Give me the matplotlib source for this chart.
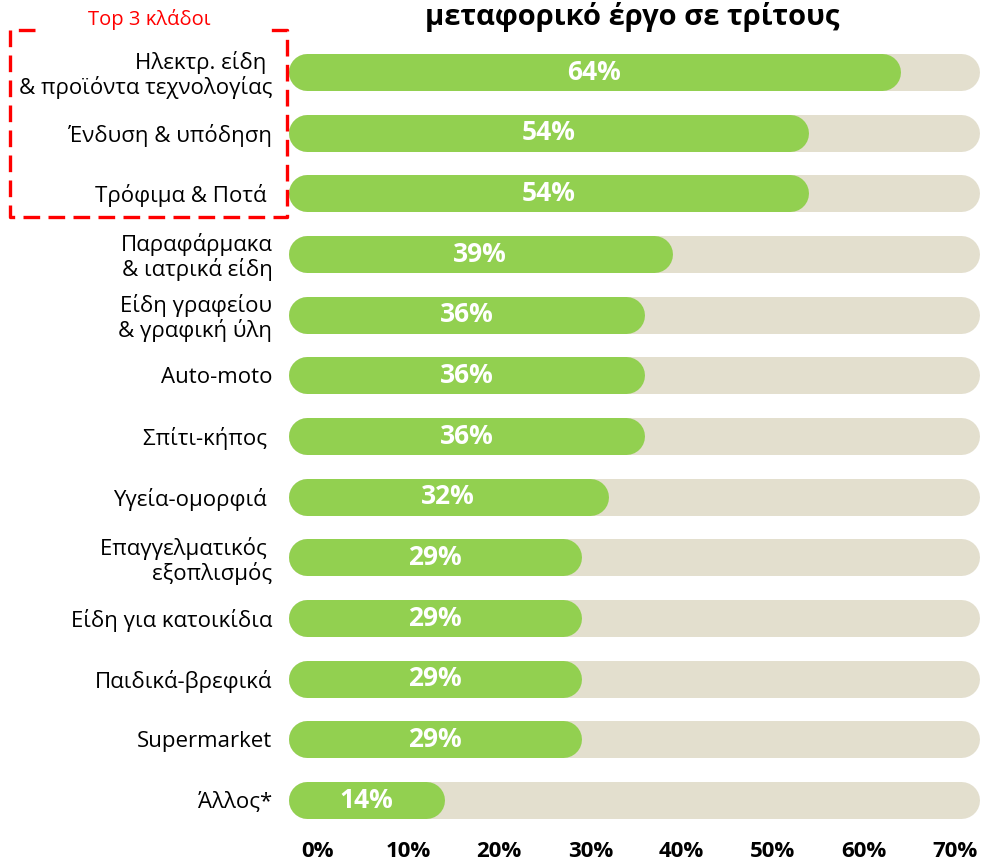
#!/usr/bin/env python3
import matplotlib
matplotlib.use('Agg')
import matplotlib.pyplot as plt
from matplotlib.lines import Line2D

categories = [
    'Ηλεκτρ. είδη \n& προϊόντα τεχνολογίας',
    'Ένδυση & υπόδηση',
    'Τρόφιμα & Ποτά ',
    'Παραφάρμακα\n& ιατρικά είδη',
    'Είδη γραφείου\n& γραφική ύλη',
    'Auto-moto',
    'Σπίτι-κήπος ',
    'Υγεία-ομορφιά ',
    'Επαγγελματικός \nεξοπλισμός',
    'Είδη για κατοικίδια',
    'Παιδικά-βρεφικά',
    'Supermarket',
    'Άλλος*',
]
values = [64, 54, 54, 39, 36, 36, 36, 32, 29, 29, 29, 29, 14]
ticks = [0, 10, 20, 30, 40, 50, 60, 70]
tick_labels = ['0%', '10%', '20%', '30%', '40%', '50%', '60%', '70%']

title = 'μεταφορικό έργο σε τρίτους'
top_label = 'Top 3 κλάδοι'

GREEN = '#92D050'
TRACK = '#E3DFCE'
W, H = 983, 865


def main():
    plt.rcParams['font.family'] = ['Open Sans', 'DejaVu Sans']
    fig = plt.figure(figsize=(W / 100, H / 100), dpi=100)

    # axes placed in pixel terms
    left, right, top, bottom = 285, 983, 30, 830
    ax = fig.add_axes([left / W, 1 - bottom / H, (right - left) / W, (bottom - top) / H])

    px_per_unit = 9.11
    zero_px = 317
    ax.set_xlim((left - zero_px) / px_per_unit, (right - zero_px) / px_per_unit)
    n = len(categories)
    step = (800 - 72) / (n - 1)
    ax.set_ylim(n - 1 + (bottom - 800) / step, -(72 - top) / step)

    bar_px = 37
    lw = bar_px * 72 / 100
    cap = bar_px / 2 / px_per_unit
    start = (288 - zero_px) / px_per_unit
    end = (980 - zero_px) / px_per_unit

    ys = list(range(n))
    ax.hlines(ys, start + cap, end - cap, colors=TRACK, linewidth=lw, capstyle='round')
    ax.hlines(ys, start + cap, [v - cap for v in values], colors=GREEN,
              linewidth=lw, capstyle='round')
    for y, v in zip(ys, values):
        ax.text((start + v) / 2, y, f'{v}%', ha='center', va='center',
                color='white', fontsize=19, fontweight='bold')

    ax.set_yticks(ys)
    ax.set_yticklabels(categories, fontsize=16, multialignment='right',
                       linespacing=1.1)
    ax.set_xticks(ticks)
    ax.set_xticklabels(tick_labels, fontsize=16, fontweight='bold')
    ax.tick_params(axis='both', length=0)
    ax.tick_params(axis='y', pad=9)
    ax.tick_params(axis='x', pad=8)
    for s in ax.spines.values():
        s.set_visible(False)

    fig.text(632 / W, 1 - 17 / H, title, ha='center', va='center',
             fontsize=21, fontweight='bold')
    fig.text(149 / W, 1 - 19 / H, top_label, ha='center', va='center',
             fontsize=14.5, color='red')

    # dashed frame round the top three
    xs = [35, 10, 10, 287, 287, 263]
    yy = [30, 30, 217, 217, 30, 30]
    fig.add_artist(Line2D([x / W for x in xs], [1 - y / H for y in yy],
                          transform=fig.transFigure, color='red', lw=2.4,
                          linestyle=(0, (5, 2.5))))

    fig.savefig('out.png', dpi=100)


if __name__ == '__main__':
    main()
